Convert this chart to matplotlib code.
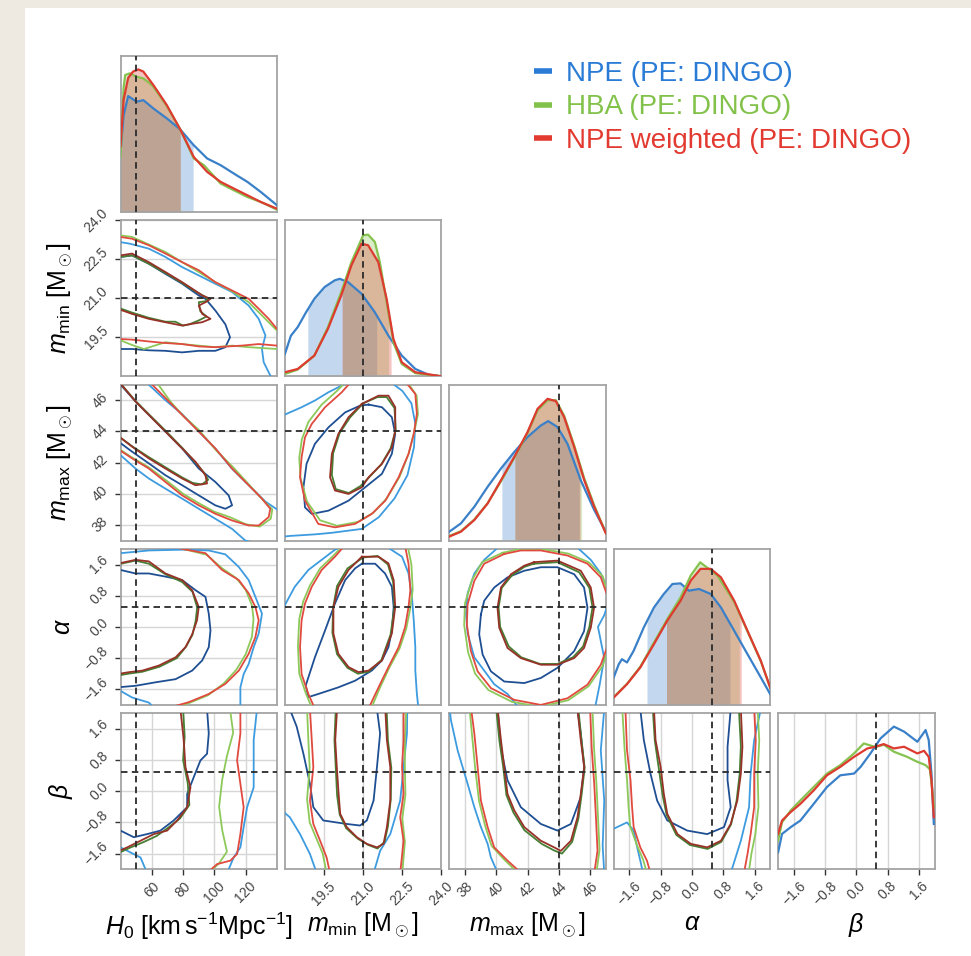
import numpy as np
import matplotlib
matplotlib.use("Agg")
import matplotlib.pyplot as plt
from matplotlib.lines import Line2D
from matplotlib.patches import Rectangle

plt.rcParams["font.family"] = ["Liberation Sans", "DejaVu Sans"]
plt.rcParams["mathtext.fontset"] = "custom"
plt.rcParams["mathtext.rm"] = "Liberation Sans"
plt.rcParams["mathtext.it"] = "Liberation Sans:italic"
plt.rcParams["mathtext.bf"] = "Liberation Sans:bold"

# ---------------------------------------------------------------- parameters
PARAM_LABELS = [
    r"$H_0\ [\mathrm{km\,s^{-1}Mpc^{-1}}]$",
    r"$m_{\mathrm{min}}\ [\mathrm{M}_\odot]$",
    r"$m_{\mathrm{max}}\ [\mathrm{M}_\odot]$",
    r"$\alpha$",
    r"$\beta$",
]
PARAM_RANGES = [(40, 140), (18, 24), (37, 47), (-2, 2), (-2, 2)]
TRUTHS = [50.0, 21.0, 44.0, 0.5, 0.5]
TICKS = [
    [60, 80, 100, 120],
    [19.5, 21.0, 22.5, 24.0],
    [38, 40, 42, 44, 46],
    [-1.6, -0.8, 0.0, 0.8, 1.6],
    [-1.6, -0.8, 0.0, 0.8, 1.6],
]
TICK_LABELS = [
    ["60", "80", "100", "120"],
    ["19.5", "21.0", "22.5", "24.0"],
    ["38", "40", "42", "44", "46"],
    ["\u22121.6", "\u22120.8", "0.0", "0.8", "1.6"],
    ["\u22121.6", "\u22120.8", "0.0", "0.8", "1.6"],
]

SERIES = ["npe", "hba", "npew"]
SERIES_NAMES = ["NPE (PE: DINGO)", "HBA (PE: DINGO)", "NPE weighted (PE: DINGO)"]

# ---------------------------------------------------------------- 1D marginals
marg_h0 = {
    "npe": ([40, 42, 44.9, 50.3, 54.6, 61, 69.6, 78.2, 86.8, 95.4, 104, 112.5, 121.1, 129.7, 140],
            [0.38, 0.62, 0.743, 0.707, 0.717, 0.664, 0.60, 0.529, 0.428, 0.343, 0.30, 0.246, 0.193, 0.128, 0.043]),
    "hba": ([40, 42, 43.0, 46.0, 50.3, 54.6, 58.9, 61, 69.6, 78.2, 86.8, 93.3, 104, 112.5, 121.1, 129.7, 140],
            [0.35, 0.80, 0.878, 0.889, 0.867, 0.856, 0.824, 0.803, 0.679, 0.529, 0.343, 0.30, 0.182, 0.139, 0.096, 0.064, 0.015]),
    "npew": ([40, 42, 44.9, 48, 51.4, 54.6, 61, 69.6, 78.2, 86.8, 95.4, 104, 112.5, 121.1, 129.7, 140],
             [0.42, 0.72, 0.86, 0.90, 0.914, 0.90, 0.814, 0.685, 0.529, 0.353, 0.257, 0.193, 0.15, 0.107, 0.064, 0.021]),
}
marg_mmin = {
    "npe": ([18, 18.23, 18.49, 18.81, 19.13, 19.52, 19.91, 20.10, 20.42, 20.94, 21.45, 21.97, 22.48, 23.0, 23.51, 24.0],
            [0.143, 0.26, 0.315, 0.41, 0.497, 0.572, 0.615, 0.625, 0.604, 0.529, 0.41, 0.26, 0.133, 0.047, 0.01, 0.0]),
    "hba": ([18, 18.49, 19.13, 19.65, 20.16, 20.55, 21.0, 21.19, 21.45, 21.64, 21.90, 22.16, 22.48, 23.0, 24.0],
            [0.015, 0.043, 0.133, 0.315, 0.54, 0.732, 0.904, 0.908, 0.861, 0.732, 0.475, 0.218, 0.079, 0.02, 0.0]),
    "npew": ([18, 18.49, 19.13, 19.65, 20.16, 20.55, 20.94, 21.19, 21.58, 21.90, 22.16, 22.48, 23.0, 24.0],
             [0.026, 0.047, 0.133, 0.304, 0.518, 0.711, 0.85, 0.84, 0.732, 0.497, 0.24, 0.09, 0.026, 0.0]),
}
marg_mmax = {
    "npe": ([37, 37.74, 38.6, 39.45, 40.3, 41.15, 42.0, 42.85, 43.32, 43.91, 44.55, 45.4, 46.26, 47],
            [0.057, 0.11, 0.217, 0.345, 0.462, 0.568, 0.664, 0.738, 0.766, 0.728, 0.621, 0.387, 0.196, 0.057]),
    "hba": ([37, 37.74, 38.6, 39.45, 40.3, 41.15, 42.0, 42.64, 43.28, 43.81, 44.34, 44.98, 45.62, 46.26, 47],
            [0.03, 0.06, 0.135, 0.24, 0.38, 0.53, 0.69, 0.835, 0.90, 0.90, 0.80, 0.61, 0.40, 0.225, 0.05]),
    "npew": ([37, 37.74, 38.6, 39.45, 40.3, 41.15, 42.0, 42.64, 43.28, 43.81, 44.34, 44.98, 45.62, 46.26, 47],
             [0.026, 0.057, 0.132, 0.238, 0.387, 0.536, 0.696, 0.845, 0.909, 0.894, 0.791, 0.6, 0.387, 0.217, 0.047]),
}
marg_alpha = {
    "npe": ([-2, -1.87, -1.79, -1.66, -1.49, -1.23, -0.97, -0.72, -0.50, -0.29, -0.08, 0.18, 0.48, 0.74, 1.08, 1.42, 1.76, 2.0],
            [0.176, 0.261, 0.293, 0.272, 0.347, 0.497, 0.625, 0.711, 0.775, 0.779, 0.732, 0.743, 0.711, 0.625, 0.475, 0.325, 0.176, 0.069]),
    "hba": ([-2, -1.66, -1.32, -0.97, -0.63, -0.29, -0.03, 0.21, 0.39, 0.65, 1.08, 1.42, 1.76, 2.0],
            [0.05, 0.135, 0.245, 0.40, 0.55, 0.69, 0.83, 0.914, 0.88, 0.83, 0.66, 0.47, 0.28, 0.11]),
    "npew": ([-2, -1.66, -1.32, -0.97, -0.63, -0.29, -0.03, 0.22, 0.48, 0.74, 1.08, 1.42, 1.76, 2.0],
             [0.047, 0.133, 0.24, 0.39, 0.54, 0.668, 0.797, 0.872, 0.872, 0.818, 0.668, 0.475, 0.283, 0.111]),
}
marg_beta = {
    "npe": ([-2, -1.90, -1.68, -1.43, -1.09, -0.75, -0.41, -0.06, 0.11, 0.36, 0.62, 0.96, 1.22, 1.56, 1.77, 1.85, 1.92, 1.98],
            [0.108, 0.226, 0.269, 0.312, 0.419, 0.527, 0.602, 0.613, 0.656, 0.742, 0.839, 0.914, 0.882, 0.817, 0.892, 0.828, 0.613, 0.29]),
    "hba": ([-2, -1.90, -1.68, -1.43, -1.09, -0.75, -0.41, -0.06, 0.19, 0.49, 0.70, 0.96, 1.30, 1.56, 1.77, 1.88, 1.94, 1.98],
            [0.183, 0.30, 0.376, 0.441, 0.527, 0.613, 0.667, 0.742, 0.806, 0.783, 0.798, 0.753, 0.72, 0.688, 0.667, 0.64, 0.51, 0.398]),
    "npew": ([-2, -1.90, -1.68, -1.43, -1.09, -0.75, -0.41, -0.06, 0.28, 0.49, 0.70, 0.96, 1.22, 1.56, 1.73, 1.85, 1.92, 1.98],
             [0.226, 0.312, 0.366, 0.419, 0.505, 0.602, 0.656, 0.72, 0.774, 0.785, 0.802, 0.774, 0.785, 0.742, 0.759, 0.72, 0.57, 0.333]),
}
MARGINALS = [marg_h0, marg_mmin, marg_mmax, marg_alpha, marg_beta]

# 90% credible intervals shaded under each marginal (none for beta)
ci_h0 = {"npe": (40.0, 86.4), "hba": (40.0, 78.2), "npew": (40.0, 78.2)}
ci_mmin = {"npe": (18.88, 21.52), "hba": (20.21, 21.97), "npew": (20.19, 22.07)}
ci_mmax = {"npe": (40.36, 45.3), "hba": (41.19, 45.45), "npew": (41.19, 45.36)}
ci_alpha = {"npe": (-1.15, 0.97), "hba": (-0.65, 1.21), "npew": (-0.65, 1.26)}
ci_beta = None
CREDIBLE = [ci_h0, ci_mmin, ci_mmax, ci_alpha, ci_beta]

# ---------------------------------------------------------------- 2D contours
# (x, y) vertices of the 50% ("inner") and 90% ("outer") levels per series
cont_h0_mmin = {
    ("npe", "outer"): [(38, 23.18), (40, 23.16), (46, 23.1), (58.1, 22.91), (68.7, 22.59), (79.4, 22.2), (90, 21.88), (100.6, 21.56), (111.3, 21.24), (121.9, 20.72), (128.3, 20.21), (132.6, 19.57), (130.4, 19.05), (131.5, 18.54), (136.8, 17.9)],
    ("npe", "inner"): [(38, 22.58), (40, 22.59), (47.4, 22.65), (58.1, 22.33), (68.7, 21.94), (79.4, 21.56), (90, 21.11), (94.3, 20.98), (100.6, 20.53), (107, 20.0), (110, 19.5), (107, 19.12), (100.6, 18.98), (90, 18.98), (79.4, 18.92), (68.7, 18.98), (58.1, 19.0), (47.4, 19.05), (38, 19.05)],
    ("hba", "outer"): [(38, 23.43), (40, 23.42), (47.4, 23.36), (58.1, 23.07), (68.7, 22.78), (79.4, 22.39), (90, 22.01), (100.6, 21.62), (111.3, 21.27), (121.9, 20.85), (130.4, 20.34), (136.8, 19.95), (140, 19.76), (146, 19.5), (140, 19.05), (121.9, 19.12), (111.3, 19.18), (100.6, 19.12), (90, 19.18), (79.4, 19.24), (68.7, 19.31), (55, 19.05), (48.5, 19.18), (43, 19.31), (38, 19.44)],
    ("hba", "inner"): [(38, 22.58), (40, 22.59), (47.4, 22.65), (58.1, 22.33), (68.7, 21.97), (79.4, 21.59), (87, 21.3), (94.3, 21.05), (96, 20.9), (90, 20.85), (91, 20.5), (95, 20.3), (90, 20.15), (84, 20.0), (80, 19.95), (75, 20.1), (68.7, 20.1), (58.1, 20.25), (47.4, 20.45), (38, 20.65)],
    ("npew", "outer"): [(38, 23.37), (40, 23.36), (47.4, 23.29), (58.1, 23.04), (68.7, 22.72), (79.4, 22.39), (90, 22.08), (100.6, 21.62), (111.3, 21.3), (121.9, 20.98), (128.3, 20.6), (134.7, 20.21), (140, 19.82), (146, 19.5), (140, 19.18), (128.3, 19.24), (117.4, 19.18), (100.6, 19.12), (90, 19.15), (79.4, 19.24), (68.7, 19.28), (58.1, 19.34), (47.4, 19.41), (38, 19.44)],
    ("npew", "inner"): [(38, 22.64), (40, 22.65), (47.4, 22.72), (58.1, 22.39), (68.7, 22.01), (79.4, 21.62), (85.8, 21.37), (92.2, 21.11), (97.5, 20.98), (94.3, 20.85), (90, 20.72), (92.2, 20.4), (97.5, 20.21), (92.2, 20.08), (85.8, 20.02), (79.4, 19.95), (68.7, 20.08), (58.1, 20.21), (47.4, 20.4), (38, 20.6)],
}
cont_h0_mmax = {
    ("npe", "outer"): [(56, 47.3), (58, 47.0), (68.7, 46.0), (79.4, 45.1), (90, 44.0), (100.6, 42.9), (111.3, 41.6), (121.9, 40.55), (132.6, 39.5), (140, 39.0), (146, 38.0), (140, 36.5), (119.8, 37.0), (111.3, 37.75), (100.6, 38.4), (90, 39.04), (79.4, 39.69), (68.7, 40.33), (58.1, 40.98), (49.6, 41.62), (40, 42.48), (38, 42.6)],
    ("npe", "inner"): [(38, 47.3), (40, 47.0), (49.6, 45.92), (58.1, 45.06), (68.7, 43.99), (79.4, 42.91), (90, 41.62), (100.6, 40.76), (109.1, 39.9), (111.3, 39.26), (107, 39.04), (100.6, 39.26), (90, 39.9), (79.4, 40.55), (68.7, 41.19), (58.1, 41.95), (47.4, 42.7), (38, 43.4)],
    ("hba", "outer"): [(62, 47.3), (72, 45.9), (80, 45.0), (90, 44.1), (101, 42.8), (112, 41.7), (122, 40.6), (131, 39.6), (137, 39.0), (136, 38.4), (129, 37.9), (120, 38.05), (110, 38.5), (100, 38.85), (90, 39.4), (80, 40.0), (70, 40.8), (58, 41.7), (47, 42.35), (38, 42.95)],
    ("hba", "inner"): [(38, 47.3), (49.6, 45.95), (58.1, 45.1), (68.7, 44.05), (79.4, 42.95), (88, 42.0), (93, 41.4), (96, 40.9), (92, 40.6), (86, 40.7), (79.4, 41.05), (68.7, 41.7), (58.1, 42.35), (47.4, 43.05), (38, 43.75)],
    ("npew", "outer"): [(58.5, 47.3), (60.2, 47.0), (70.9, 45.92), (79.4, 45.06), (90, 43.99), (100.6, 42.91), (111.3, 41.62), (121.9, 40.55), (130.4, 39.69), (135.7, 39.04), (134.7, 38.51), (128.3, 37.97), (121.9, 37.97), (111.3, 38.29), (100.6, 38.72), (90, 39.26), (79.4, 39.9), (68.7, 40.76), (58.1, 41.62), (47.4, 42.27), (38, 42.9)],
    ("npew", "inner"): [(38, 47.3), (49.6, 45.92), (58.1, 45.06), (68.7, 43.99), (79.4, 42.91), (87.9, 42.05), (94.3, 41.19), (95.3, 40.66), (87.9, 40.55), (79.4, 40.98), (68.7, 41.62), (58.1, 42.27), (47.4, 43.02), (38, 43.75)],
}
cont_mmin_mmax = {
    ("npe", "outer"): [(17.9, 45.0), (18.07, 45.13), (18.64, 45.55), (19.15, 45.98), (19.67, 46.51), (20.18, 46.94), (20.4, 47.1), (21.0, 47.8), (22.1, 47.1), (22.5, 46.6), (22.85, 45.8), (23.0, 44.5), (22.95, 43.0), (22.7, 41.2), (22.2, 39.7), (21.6, 38.5), (20.95, 37.75), (19.8, 37.5), (19.15, 37.4), (18.2, 37.3), (17.9, 37.25)],
    ("npe", "inner"): [(21.21, 45.72), (21.72, 45.55), (22.10, 44.91), (22.23, 43.84), (22.10, 42.56), (21.72, 41.28), (21.08, 40.42), (20.44, 39.56), (19.67, 38.92), (19.03, 38.71), (18.77, 39.13), (18.71, 40.42), (18.83, 41.92), (19.15, 43.2), (19.67, 44.26), (20.31, 45.22), (20.88, 45.65), (21.21, 45.72)],
    ("hba", "outer"): [(20.4, 47.3), (20.0, 46.6), (19.4, 45.7), (18.9, 44.6), (18.65, 43.5), (18.55, 42.3), (18.6, 41.0), (18.85, 39.5), (19.35, 38.3), (20.0, 37.95), (20.8, 38.2), (21.4, 38.8), (21.9, 39.7), (22.4, 41.1), (22.75, 42.6), (22.95, 43.9), (23.1, 45.1), (23.05, 46.3), (22.8, 46.9), (22.6, 47.3)],
    ("hba", "inner"): [(21.0, 45.8), (21.55, 46.2), (21.9, 46.2), (22.2, 45.5), (22.25, 44.1), (22.05, 42.9), (21.7, 41.9), (21.25, 41.1), (20.9, 40.5), (20.45, 40.05), (19.95, 40.3), (19.8, 41.2), (19.85, 42.6), (20.1, 43.9), (20.5, 44.9), (21.0, 45.8)],
    ("npew", "outer"): [(20.6, 47.3), (20.18, 46.51), (19.54, 45.55), (19.03, 44.48), (18.77, 43.62), (18.64, 42.34), (18.58, 41.06), (18.77, 39.56), (19.28, 38.07), (19.92, 37.85), (20.69, 38.07), (21.33, 38.71), (21.85, 39.56), (22.36, 41.06), (22.74, 42.56), (22.94, 43.84), (23.06, 45.12), (23.0, 46.4), (22.74, 46.94), (22.5, 47.3)],
    ("npew", "inner"): [(20.95, 45.76), (21.59, 46.29), (21.97, 46.29), (22.23, 45.55), (22.23, 44.05), (22.10, 42.98), (21.72, 41.92), (21.21, 41.06), (20.95, 40.42), (20.44, 39.99), (19.92, 40.21), (19.73, 41.06), (19.80, 42.56), (20.05, 43.84), (20.44, 44.91), (20.95, 45.76)],
}
cont_h0_alpha = {
    ("npe", "outer"): [(62, -2.1), (58.1, -1.94), (47.4, -1.81), (40, -1.64), (36, 0.0), (38, 1.89), (40, 1.89), (58.1, 1.96), (79.4, 1.98), (96.4, 1.96), (107, 1.86), (115.5, 1.54), (121.9, 1.20), (126.2, 0.77), (130.4, 0.34), (128.3, -0.17), (125.1, -0.52), (121.9, -0.95), (118.7, -1.21), (116.6, -1.55), (116.6, -2.1)],
    ("npe", "inner"): [(38, 1.46), (40, 1.46), (49.6, 1.37), (58.1, 1.37), (68.7, 1.29), (79.4, 1.2), (88, 0.94), (94.3, 0.77), (96.4, 0.34), (97.5, -0.09), (96.4, -0.52), (92.2, -0.86), (85.8, -1.12), (75.2, -1.34), (62.5, -1.42), (49.6, -1.51), (38, -1.55)],
    ("hba", "outer"): [(72, 2.1), (82, 1.98), (95, 1.85), (105, 1.5), (114, 1.25), (120, 0.95), (124, 0.55), (125, 0.2), (124, -0.25), (120, -0.7), (114, -1.1), (106, -1.45), (96, -1.75), (84, -1.95), (70, -2.1)],
    ("hba", "inner"): [(38, 1.6), (49.6, 1.7), (58.1, 1.62), (68.7, 1.35), (79.4, 1.15), (86, 0.9), (89, 0.5), (88, 0.15), (86, -0.2), (82, -0.5), (76, -0.8), (65, -1.02), (54, -1.15), (45, -1.2), (38, -1.25)],
    ("npew", "outer"): [(68.7, 2.1), (79.4, 2.0), (94.3, 1.89), (104.9, 1.46), (115.6, 1.2), (121.9, 0.86), (126.2, 0.51), (128.3, 0.17), (126.2, -0.26), (121.9, -0.69), (115.6, -1.12), (107, -1.46), (96.4, -1.72), (83.6, -1.93), (68.7, -2.1)],
    ("npew", "inner"): [(38, 1.62), (49.6, 1.72), (58.1, 1.68), (68.7, 1.37), (79.4, 1.2), (85.8, 0.94), (90, 0.51), (88.9, 0.17), (85.8, -0.19), (81.5, -0.52), (75.2, -0.78), (64.6, -0.99), (54, -1.12), (45.5, -1.16), (38, -1.21)],
}
cont_mmin_alpha = {
    ("npe", "outer"): [(17.9, 0.4), (18.0, 0.56), (18.38, 1.03), (18.90, 1.46), (19.41, 1.72), (19.92, 1.98), (20.3, 2.1), (21.0, 2.4), (21.8, 2.1), (22.49, 1.8), (22.74, 1.37), (22.87, 0.77), (22.94, 0.17), (23.0, -0.52), (23.0, -1.12), (23.06, -1.72), (23.12, -2.1)],
    ("npe", "inner"): [(20.95, 1.62), (21.46, 1.62), (21.84, 1.37), (22.10, 1.03), (22.17, 0.51), (22.10, -0.09), (21.97, -0.52), (21.72, -0.86), (21.33, -1.12), (20.69, -1.38), (20.05, -1.55), (19.28, -1.72), (18.9, -1.8), (18.8, -1.5), (19.15, -0.78), (19.54, -0.09), (19.92, 0.6), (20.31, 1.2), (20.69, 1.5), (20.95, 1.62)],
    ("hba", "outer"): [(19.05, -2.1), (18.8, -1.7), (18.55, -1.2), (18.5, -0.5), (18.55, 0.2), (18.7, 0.65), (18.95, 1.05), (19.35, 1.5), (19.85, 1.82), (20.25, 2.1), (21.4, 2.4), (22.7, 2.1), (22.85, 1.6), (22.9, 0.95), (22.8, 0.45), (22.65, -0.05), (22.4, -0.55), (22.0, -1.05), (21.65, -1.55), (21.3, -2.1)],
    ("hba", "inner"): [(21.0, 1.78), (21.55, 1.82), (21.95, 1.6), (22.15, 1.15), (22.2, 0.5), (22.05, -0.2), (21.7, -0.85), (21.2, -1.15), (20.8, -1.2), (20.4, -1.05), (20.0, -0.7), (19.82, -0.15), (19.85, 0.5), (20.0, 1.05), (20.4, 1.5), (21.0, 1.78)],
    ("npew", "outer"): [(19.15, -2.1), (18.9, -1.72), (18.64, -1.21), (18.58, -0.52), (18.64, 0.17), (18.77, 0.6), (19.03, 1.03), (19.41, 1.46), (19.92, 1.8), (20.31, 2.1), (21.4, 2.4), (22.6, 2.1), (22.74, 1.62), (22.81, 0.94), (22.74, 0.51), (22.61, 0.0), (22.36, -0.52), (21.97, -1.03), (21.59, -1.55), (21.2, -2.1)],
    ("npew", "inner"): [(20.95, 1.80), (21.59, 1.80), (21.97, 1.63), (22.17, 1.20), (22.23, 0.51), (22.10, -0.17), (21.72, -0.86), (21.21, -1.12), (20.82, -1.16), (20.44, -1.03), (20.05, -0.69), (19.86, -0.17), (19.86, 0.51), (20.05, 1.03), (20.44, 1.46), (20.95, 1.80)],
}
cont_mmax_alpha = {
    ("npe", "outer"): [(40.3, 2.1), (39.23, 1.72), (38.6, 1.37), (38.17, 0.86), (38.07, 0.34), (38.17, -0.17), (38.6, -0.78), (39.23, -1.12), (39.87, -1.47), (40.72, -1.72), (41.5, -2.1), (44, -2.5), (46.3, -2.1), (46.6, -1.5), (46.9, -0.8), (46.5, 0.0), (46.9, 0.3), (47.3, 0.8), (46.68, 1.37), (46.04, 1.72), (45.0, 2.1)],
    ("npe", "inner"): [(39.02, 0.32), (38.91, -0.19), (39.13, -0.71), (39.66, -1.14), (40.51, -1.40), (41.79, -1.44), (42.85, -1.31), (43.91, -1.05), (44.98, -0.62), (45.61, -0.11), (45.83, 0.49), (45.61, 1.01), (44.98, 1.35), (43.91, 1.53), (42.85, 1.53), (41.79, 1.44), (40.72, 1.27), (39.87, 1.01), (39.23, 0.67), (39.02, 0.32)],
    ("hba", "outer"): [(40.4, 1.9), (39.1, 1.66), (38.45, 1.2), (38.0, 0.6), (37.95, 0.05), (38.2, -0.65), (38.65, -1.2), (39.5, -1.62), (41.0, -1.92), (42.8, -2.05), (44.6, -1.88), (45.9, -1.52), (46.8, -1.0), (47.2, -0.5), (47.2, 0.8), (46.8, 1.3), (45.9, 1.66), (44.6, 1.88), (42.9, 2.0), (41.5, 2.0), (40.4, 1.9)],
    ("hba", "inner"): [(42.4, 1.62), (43.9, 1.66), (45.3, 1.4), (45.95, 1.0), (46.15, 0.5), (45.95, 0.0), (45.55, -0.5), (44.9, -0.78), (43.9, -0.95), (42.8, -0.95), (41.6, -0.78), (40.8, -0.5), (40.25, 0.0), (40.15, 0.5), (40.35, 1.0), (41.0, 1.32), (41.8, 1.54), (42.4, 1.62)],
    ("npew", "outer"): [(40.51, 1.87), (39.23, 1.62), (38.6, 1.18), (38.17, 0.58), (38.12, 0.06), (38.38, -0.62), (38.81, -1.14), (39.66, -1.57), (41.15, -1.87), (42.85, -2.0), (44.55, -1.83), (45.83, -1.48), (46.68, -0.97), (47.1, -0.5), (47.1, 0.8), (46.68, 1.27), (45.83, 1.62), (44.55, 1.83), (42.85, 1.96), (41.57, 1.96), (40.51, 1.87)],
    ("npew", "inner"): [(42.42, 1.66), (43.91, 1.70), (45.40, 1.44), (46.04, 1.01), (46.25, 0.49), (46.04, -0.02), (45.61, -0.54), (44.98, -0.80), (43.91, -0.97), (42.85, -0.97), (41.57, -0.80), (40.72, -0.54), (40.19, -0.02), (40.08, 0.49), (40.30, 1.01), (40.94, 1.35), (41.79, 1.57), (42.42, 1.66)],
}
cont_h0_beta = {
    ("npe", "outer"): [(38, -1.4), (40, -1.44), (52.8, -1.7), (57, -2.1), (90, -2.6), (108.1, -2.1), (112.3, -1.70), (116.6, -1.44), (118.7, -0.92), (120.9, -0.41), (125.1, 0.10), (125.1, 0.62), (125.1, 1.31), (127.2, 2.1)],
    ("npe", "inner"): [(95.3, 2.1), (96.4, 1.48), (95.3, 0.96), (91.1, 0.79), (86.8, 0.36), (82.6, -0.07), (82.6, -0.41), (74.0, -0.75), (65.5, -1.01), (57.0, -1.10), (48.5, -1.18), (40, -1.01), (38, -1.0)],
    ("hba", "outer"): [(110, 2.1), (112, 1.5), (108, 0.9), (105, 0.3), (103, -0.4), (105, -1.0), (108, -1.55), (103, -1.85), (96, -2.1)],
    ("hba", "inner"): [(80, 2.1), (81, 1.4), (80, 0.8), (83, 0.2), (84, -0.35), (78, -0.7), (70, -0.95), (63, -1.15), (55, -1.3), (46, -1.45), (38, -1.6)],
    ("npew", "outer"): [(116.6, 2.1), (116.6, 1.48), (114.5, 0.79), (116.6, 0.19), (118.7, -0.41), (116.6, -1.10), (114.5, -1.61), (110.2, -1.78), (101.7, -1.87), (95.3, -2.1)],
    ("npew", "inner"): [(78.3, 2.1), (80.4, 1.31), (81.5, 0.62), (84.7, 0.10), (82.6, -0.41), (76.2, -0.75), (69.8, -1.01), (61.3, -1.10), (52.8, -1.27), (44.3, -1.44), (38, -1.55)],
}
cont_mmin_beta = {
    ("npe", "outer"): [(19.22, -2.1), (18.96, -1.61), (18.58, -1.10), (18.19, -0.67), (17.9, -0.5), (17.5, 2.6), (22.7, 2.6), (22.68, 1.48), (22.55, 0.62), (22.42, -0.24), (22.04, -1.10), (21.65, -1.53), (21.40, -2.1)],
    ("npe", "inner"): [(18.19, 2.1), (18.45, 1.66), (18.71, 0.96), (18.96, 0.19), (19.09, -0.41), (19.47, -0.75), (20.37, -0.84), (20.88, -0.88), (21.14, -0.75), (21.40, -0.24), (21.53, 0.62), (21.65, 1.48), (21.53, 2.1)],
    ("hba", "outer"): [(19.6, -2.1), (19.45, -1.6), (19.2, -1.2), (18.95, -0.8), (18.85, -0.2), (18.95, 0.6), (18.9, 1.3), (18.85, 2.1), (20.5, 2.6), (22.65, 2.1), (22.6, 1.3), (22.6, 0.6), (22.62, -0.1), (22.5, -0.7), (22.6, -1.3), (22.5, -2.1)],
    ("hba", "inner"): [(19.95, 2.1), (19.9, 1.3), (19.95, 0.6), (20.0, -0.1), (20.1, -0.6), (20.35, -0.95), (20.8, -1.22), (21.2, -1.38), (21.55, -1.47), (21.82, -1.3), (21.95, -0.9), (22.06, -0.2), (22.08, 0.6), (21.95, 1.3), (21.9, 2.1)],
    ("npew", "outer"): [(19.73, -2.1), (19.6, -1.7), (19.35, -1.27), (19.09, -0.84), (18.96, -0.24), (19.09, 0.62), (19.03, 1.31), (18.96, 2.1), (20.5, 2.6), (22.55, 2.1), (22.55, 1.31), (22.49, 0.62), (22.55, -0.07), (22.42, -0.67), (22.55, -1.27), (22.42, -2.1)],
    ("npew", "inner"): [(20.0, 2.1), (19.93, 1.31), (19.99, 0.62), (20.06, -0.07), (20.12, -0.58), (20.37, -0.92), (20.76, -1.18), (21.14, -1.35), (21.53, -1.44), (21.78, -1.35), (21.91, -0.92), (22.04, -0.24), (22.04, 0.62), (21.91, 1.31), (21.85, 2.1)],
}
cont_mmax_beta = {
    ("npe", "outer"): [(40.1, -2.1), (39.66, -1.7), (39.45, -1.35), (39.02, -0.92), (38.6, -0.41), (38.17, 0.19), (37.53, 1.05), (37.1, 1.83), (36.9, 2.6), (47, 2.7), (46.9, 2.1), (46.68, 1.05), (46.9, -0.24), (46.8, -1.4), (46.9, -2.1)],
    ("npe", "inner"): [(40.09, 2.1), (40.30, 1.1), (40.72, 0.28), (41.57, -0.41), (42.85, -0.84), (43.91, -1.01), (44.77, -0.84), (45.40, -0.15), (45.62, 0.62), (45.40, 1.48), (45.19, 2.1)],
    ("hba", "outer"): [(41.4, -2.1), (40.5, -1.75), (39.7, -1.4), (39.3, -0.9), (38.9, -0.25), (38.65, 0.6), (38.45, 1.45), (38.3, 2.1), (42, 2.7), (46.15, 2.1), (46.25, 1.1), (46.4, 0.2), (46.5, -0.65), (46.6, -1.5), (46.4, -2.1)],
    ("hba", "inner"): [(40.0, 2.1), (40.2, 1.3), (40.45, 0.6), (40.65, -0.1), (41.1, -0.55), (41.8, -1.0), (42.9, -1.35), (43.7, -1.52), (44.2, -1.6), (44.85, -1.3), (45.25, -0.7), (45.45, -0.1), (45.65, 0.6), (45.45, 1.3), (45.25, 2.1)],
    ("npew", "outer"): [(41.6, -2.1), (40.72, -1.78), (39.87, -1.44), (39.45, -0.92), (39.02, -0.24), (38.81, 0.62), (38.6, 1.48), (38.4, 2.1), (42, 2.7), (46.0, 2.1), (46.1, 1.1), (46.26, 0.19), (46.37, -0.67), (46.47, -1.53), (46.26, -2.1)],
    ("npew", "inner"): [(40.09, 2.1), (40.30, 1.31), (40.51, 0.62), (40.72, -0.07), (41.15, -0.49), (41.79, -0.92), (42.85, -1.27), (43.70, -1.44), (44.13, -1.53), (44.77, -1.27), (45.19, -0.67), (45.40, -0.07), (45.62, 0.62), (45.40, 1.31), (45.19, 2.1)],
}
cont_alpha_beta = {
    ("npe", "outer"): [(-2.1, -1.01), (-1.66, -0.80), (-1.49, -1.01), (-1.40, -1.44), (-1.32, -1.78), (-1.25, -2.1), (0.0, -2.6), (0.99, -2.1), (1.25, -1.27), (1.46, -0.41), (1.50, 0.45), (1.59, 1.31), (1.76, 2.1)],
    ("npe", "inner"): [(-1.32, 2.1), (-1.23, 1.31), (-1.06, 0.45), (-0.89, -0.24), (-0.63, -0.75), (-0.12, -1.01), (0.39, -1.10), (0.82, -0.92), (0.99, -0.41), (0.91, 0.28), (0.91, 1.14), (0.99, 2.1)],
    ("hba", "outer"): [(-1.15, -2.1), (-1.25, -1.75), (-1.4, -1.4), (-1.58, -0.9), (-1.62, -0.4), (-1.66, 0.3), (-1.72, 1.05), (-1.78, 2.1), (0.0, 2.6), (1.68, 2.1), (1.72, 1.3), (1.68, 0.45), (1.7, -0.4), (1.62, -1.1), (1.52, -1.6), (1.45, -2.1)],
    ("hba", "inner"): [(-1.0, 2.1), (-0.95, 1.3), (-0.85, 0.6), (-0.75, -0.1), (-0.65, -0.6), (-0.4, -1.12), (-0.05, -1.38), (0.4, -1.48), (0.75, -1.3), (1.0, -0.85), (1.14, -0.25), (1.22, 0.45), (1.25, 1.15), (1.2, 2.1)],
    ("npew", "outer"): [(-1.06, -2.1), (-1.15, -1.78), (-1.32, -1.44), (-1.49, -0.92), (-1.53, -0.41), (-1.57, 0.28), (-1.66, 1.05), (-1.7, 2.1), (0.0, 2.6), (1.59, 2.1), (1.63, 1.31), (1.59, 0.45), (1.59, -0.41), (1.50, -1.10), (1.42, -1.61), (1.33, -2.1)],
    ("npew", "inner"): [(-0.97, 2.1), (-0.93, 1.31), (-0.80, 0.62), (-0.72, -0.06), (-0.63, -0.58), (-0.37, -1.10), (-0.03, -1.35), (0.39, -1.44), (0.74, -1.27), (0.99, -0.84), (1.16, -0.24), (1.25, 0.45), (1.29, 1.14), (1.25, 2.1)],
}
CONTOURS = {
    (0, 1): cont_h0_mmin, (0, 2): cont_h0_mmax, (1, 2): cont_mmin_mmax,
    (0, 3): cont_h0_alpha, (1, 3): cont_mmin_alpha, (2, 3): cont_mmax_alpha,
    (0, 4): cont_h0_beta, (1, 4): cont_mmin_beta, (2, 4): cont_mmax_beta,
    (3, 4): cont_alpha_beta,
}

# ---------------------------------------------------------------- styling
LINE_COLOR = {"npe": "#3a80c9", "hba": "#86c24f", "npew": "#dd3b30"}
OUTER_COLOR = {"npe": "#3d9be0", "hba": "#8cc95a", "npew": "#e04a3f"}
INNER_COLOR = {"npe": "#1f4f93", "hba": "#467f33", "npew": "#973228"}
LEGEND_COLOR = {"npe": "#2a7bd6", "hba": "#82c24a", "npew": "#e23a30"}
FILL_ALPHA = 0.3
SPINE_COLOR = "#a4a4a4"
GRID_COLOR = "#d6d6d6"
TRUTH_STYLE = dict(color="#2a2a2a", lw=1.3, ls=(0, (3.6, 2.4)), zorder=5)

W, H = 971, 956
fig = plt.figure(figsize=(W / 100, H / 100), dpi=100, facecolor="#eeeae2")
fig.add_artist(Rectangle((25 / W, 0), 1, 1 - 8 / H, transform=fig.transFigure,
                         facecolor="white", edgecolor="none", zorder=-10))

n = len(PARAM_LABELS)
x0, dx, aw = 120.5, 164.4, 156.5
y0, dy, ah = 56.0, 164.3, 156.0


def style_axes(ax, row, col):
    for sp in ax.spines.values():
        sp.set_color(SPINE_COLOR)
        sp.set_linewidth(1.3)
    ax.set_xlim(*PARAM_RANGES[col])
    ax.set_xticks(TICKS[col])
    bottom = row == n - 1
    left = col == 0 and row > 0
    if bottom:
        ax.set_xticklabels(TICK_LABELS[col], rotation=45, ha="center")
        ax.tick_params(axis="x", length=4, width=1, color="#333333",
                       labelsize=10, labelcolor="#444444", pad=3)
        ax.grid(axis="x", color=GRID_COLOR, lw=1.0)
        ax.set_xlabel(PARAM_LABELS[col], fontsize=18)
        ax.xaxis.set_label_coords(0.5, -0.265)
    else:
        ax.set_xticklabels([])
        ax.tick_params(axis="x", length=0)
    if row != col:
        ax.set_ylim(*PARAM_RANGES[row])
        ax.set_yticks(TICKS[row])
    else:
        ax.set_yticks([])
    if left:
        ax.set_yticklabels(TICK_LABELS[row], rotation=45, va="center")
        ax.tick_params(axis="y", length=4, width=1, color="#333333",
                       labelsize=10, labelcolor="#444444", pad=3)
        ax.grid(axis="y", color=GRID_COLOR, lw=1.0)
        ax.set_ylabel(PARAM_LABELS[row], fontsize=18)
        ax.yaxis.set_label_coords(-0.29, 0.5)
    elif row != col:
        ax.set_yticklabels([])
        ax.tick_params(axis="y", length=0)
    ax.set_axisbelow(True)


for row in range(n):
    for col in range(row + 1):
        left = (x0 + col * dx) / W
        bottom = 1 - (y0 + row * dy + ah) / H
        ax = fig.add_axes([left, bottom, aw / W, ah / H])
        style_axes(ax, row, col)

        if row == col:
            marg = MARGINALS[col]
            ci = CREDIBLE[col]
            if ci is not None:
                for s in SERIES:
                    xs = np.asarray(marg[s][0], float)
                    ys = np.asarray(marg[s][1], float)
                    lo, hi = ci[s]
                    inside = (xs > lo) & (xs < hi)
                    px = np.concatenate([[lo], xs[inside], [hi]])
                    py = np.concatenate([[np.interp(lo, xs, ys)], ys[inside],
                                         [np.interp(hi, xs, ys)]])
                    ax.fill_between(px, 0, py, color=LINE_COLOR[s],
                                    alpha=FILL_ALPHA, lw=0, zorder=2)
            for s in SERIES:
                ax.plot(marg[s][0], marg[s][1], color=LINE_COLOR[s], lw=1.6, zorder=3)
            ax.set_ylim(0, 1)
            ax.axvline(TRUTHS[col], **TRUTH_STYLE)
        else:
            cont = CONTOURS[(col, row)]
            for s in SERIES:
                for level, cmap in (("outer", OUTER_COLOR), ("inner", INNER_COLOR)):
                    pts = np.asarray(cont[(s, level)], float)
                    ax.plot(pts[:, 0], pts[:, 1], color=cmap[s], lw=1.3, zorder=3)
            ax.axvline(TRUTHS[col], **TRUTH_STYLE)
            ax.axhline(TRUTHS[row], **TRUTH_STYLE)

handles = [Line2D([], [], color=LEGEND_COLOR[s], lw=4.0, solid_capstyle="butt")
           for s in SERIES]
leg = fig.legend(handles, SERIES_NAMES, loc="upper left",
                 bbox_to_anchor=(534 / W, 1 - 61 / H), frameon=False,
                 fontsize=20, handlelength=0.65, handletextpad=0.5,
                 labelspacing=0.27, borderpad=0, borderaxespad=0)
for txt, s in zip(leg.get_texts(), SERIES):
    txt.set_color(LEGEND_COLOR[s])

fig.savefig("out.png", dpi=100, facecolor=fig.get_facecolor())
